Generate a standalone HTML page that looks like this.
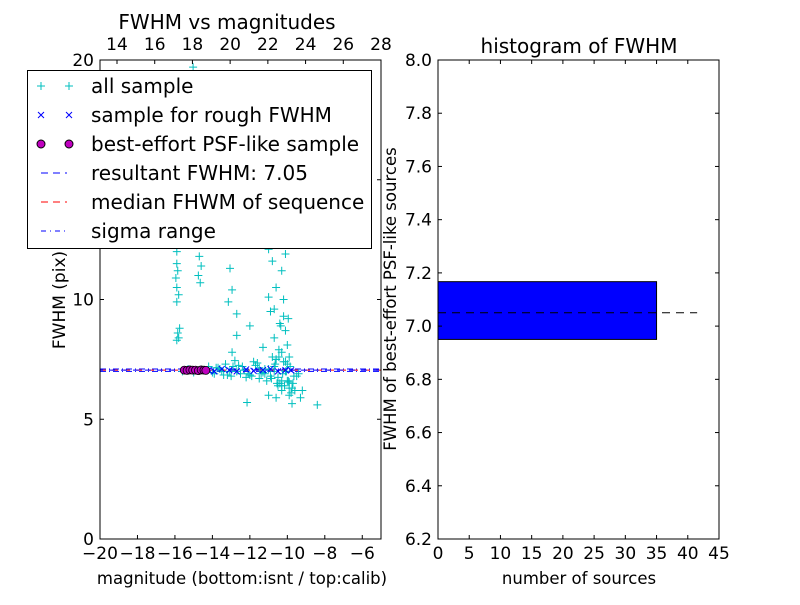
<!DOCTYPE html>
<html><head><meta charset="utf-8"><style>
body{margin:0;background:#fff}
svg text{font-family:"DejaVu Sans","Liberation Sans",sans-serif;fill:#000}
</style></head><body>
<svg id="s" width="800" height="600" xmlns="http://www.w3.org/2000/svg">
<rect width="800" height="600" fill="#fff"/>
<g id="left"></g>
<g id="right"></g>
</svg>
<script>
// ---- data ----
const allMag = [-15.9,-15.9,-15.85,-15.95,-15.9,-15.8,-15.9,-15.85,-15.8,-15.9,-15.75,-14.7,-14.6,-14.75,-14.65,-14.8,-15.03,
-13.06,-12.95,-13.15,-12.7,-12.0,-12.7,-12.95,-11.3,-11.0,-10.8,-10.5,-10.3,-10.6,-10.9,-10.2,-10.4,-10.1,-10.7,-10.0,-10.3,-9.9,-10.5,-10.2,-11.0,-10.7,-10.1,-9.95,-10.35,-10.6,-10.45,
-15.6,-15.3,-15.0,-14.6,-14.2,-13.9,-13.6,-13.3,-13.0,-12.7,-12.4,-12.1,-11.8,-11.5,-11.2,-10.9,-10.6,-10.3,-10.0,-9.7,-9.4,-13.8,-13.2,-12.6,-12.2,-11.6,-11.1,-10.8,-10.5,-10.2,-9.9,-9.6,-11.4,-10.4,-10.1,-9.8,-10.7,-11.0,-10.0,-9.5,-12.8,-13.5,
-14.0,-13.7,-13.4,-13.1,-12.9,-12.5,-12.3,-11.9,-11.7,-11.3,-11.0,-10.85,-10.65,-10.55,-10.45,-10.25,-10.15,-10.05,-9.95,-9.85,-9.75,-9.65,-10.3,-10.5,-10.1,-9.9,-10.7,-11.2,-11.5,-12.0,
-12.15,-8.4,-9.3,-9.75,-10.3,-9.2,-9.9,-10.6];
const allFwhm = [12.0,11.5,11.2,10.9,10.5,10.2,9.9,8.6,8.4,8.3,8.8,11.8,11.4,11.0,10.7,12.6,19.7,
11.3,10.4,9.9,9.4,8.9,8.5,7.8,8.0,12.1,11.6,12.5,11.2,10.5,9.5,9.3,9.0,8.7,8.4,8.1,7.8,7.6,12.9,10.0,10.1,9.6,11.9,9.2,8.9,7.5,7.9,
7.0,7.1,6.95,7.05,7.2,6.9,7.1,7.3,6.8,7.0,7.2,6.9,7.4,6.7,7.1,6.8,7.5,6.6,7.3,6.5,6.9,7.15,6.85,7.25,6.75,7.35,6.6,7.6,6.4,7.4,6.3,6.2,6.9,6.5,7.0,6.1,7.2,6.0,6.6,6.8,7.45,7.0,
6.95,7.15,6.85,7.0,7.2,6.9,7.05,6.8,7.25,6.95,7.1,6.7,7.3,6.5,7.6,6.9,6.4,7.0,6.6,7.2,6.3,6.8,6.2,6.75,7.4,6.55,7.0,6.9,7.15,6.85,
5.7,5.6,5.9,5.65,6.4,6.2,6.0,5.9];
const roughMag = [-14.2,-13.9,-13.5,-13.1,-12.7,-12.2,-11.8,-11.3,-10.9,-10.5,-10.1,-9.8];
const roughFwhm = [7.05,7.0,7.1,7.05,7.0,7.08,7.02,7.05,7.1,7.0,7.05,7.04];
const bestMag = [-15.5,-15.35,-15.2,-15.05,-14.9,-14.75,-14.6,-14.45,-14.35];
const bestFwhm = [7.05,7.04,7.06,7.05,7.05,7.03,7.06,7.05,7.04];
const resultFwhm = 7.05, medianFwhm = 7.05, sigmaLow = 7.0, sigmaHigh = 7.1;
const xTicks = [-20,-18,-16,-14,-12,-10,-8,-6];
const topTicks = [14,16,18,20,22,24,26,28];
const yTicks = [0,5,10,15,20];
const histBins = [6.95];
const histCounts = [35];
const histWidth = 0.217;
const histY = [6.2,6.4,6.6,6.8,7.0,7.2,7.4,7.6,7.8,8.0];
const histX = [0,5,10,15,20,25,30,35,40,45];
const dashEnd = 41.5;

const NS="http://www.w3.org/2000/svg";
function mk(p,t,a,txt){const e=document.createElementNS(NS,t);for(const k in a)e.setAttribute(k,a[k]);if(txt!==undefined)e.textContent=txt;p.appendChild(e);return e;}
const L=document.getElementById('left'), R=document.getElementById('right');
const lx0=100,lx1=381,ly0=60,ly1=539;
const sx=v=>lx0+(v+20)/15*(lx1-lx0);
const sy=v=>ly1-v/20*(ly1-ly0);
const stx=v=>117+(v-14)/14*(381-117);
mk(L,'rect',{x:lx0,y:ly0,width:lx1-lx0,height:ly1-ly0,fill:'#fff'});
let e;
e=mk(L,'line',{x1:lx0,x2:lx1,y1:sy(sigmaLow),y2:sy(sigmaLow),stroke:'#00f','stroke-dasharray':'6,3,1,3'});

e=mk(L,'line',{x1:lx0,x2:lx1,y1:sy(sigmaHigh),y2:sy(sigmaHigh),stroke:'#00f','stroke-dasharray':'6,3,1,3'});

e=mk(L,'line',{x1:lx0,x2:lx1,y1:sy(medianFwhm),y2:sy(medianFwhm),stroke:'#f00','stroke-dasharray':'6,6'});

e=mk(L,'line',{x1:lx0,x2:lx1,y1:sy(resultFwhm),y2:sy(resultFwhm),stroke:'#00f','stroke-dasharray':'6,6','stroke-dashoffset':'3'});

for(let i=0;i<allMag.length;i++){const x=sx(allMag[i]),y=sy(allFwhm[i]);
 e=mk(L,'path',{d:`M${x-4},${y}H${x+4}M${x},${y-4}V${y+4}`,stroke:'#00bfbf','stroke-width':1});
 }
for(let i=0;i<roughMag.length;i++){const x=sx(roughMag[i]),y=sy(roughFwhm[i]);
 e=mk(L,'path',{d:`M${x-3},${y-3}L${x+3},${y+3}M${x-3},${y+3}L${x+3},${y-3}`,stroke:'#00f','stroke-width':1});
 }
for(let i=0;i<bestMag.length;i++){
 e=mk(L,'circle',{cx:sx(bestMag[i]),cy:sy(bestFwhm[i]),r:4,fill:'#bf00bf',stroke:'#000','stroke-width':0.8});
 }
mk(L,'rect',{x:lx0,y:ly0,width:lx1-lx0,height:ly1-ly0,fill:'none',stroke:'#000'});
xTicks.forEach(v=>{const x=sx(v);mk(L,'line',{x1:x,x2:x,y1:ly1,y2:ly1-4,stroke:'#000'});
 e=mk(L,'text',{x:x,y:559,'font-size':17,'text-anchor':'middle'},v<0?'\u2212'+(-v):v);
 });
topTicks.forEach(v=>{const x=stx(v);mk(L,'line',{x1:x,x2:x,y1:ly0,y2:ly0+4,stroke:'#000'});
 e=mk(L,'text',{x:x,y:50,'font-size':17,'text-anchor':'middle'},v);
 });
yTicks.forEach(v=>{const y=sy(v);mk(L,'line',{x1:lx0,x2:lx0+4,y1:y,y2:y,stroke:'#000'});mk(L,'line',{x1:lx1,x2:lx1-4,y1:y,y2:y,stroke:'#000'});
 e=mk(L,'text',{x:94,y:y+6,'font-size':17,'text-anchor':'end'},v);
 });
e=mk(L,'text',{x:242,y:584,'font-size':16.5,'text-anchor':'middle'},'magnitude (bottom:isnt / top:calib)');

e=mk(L,'text',{x:227,y:29,'font-size':20,'text-anchor':'middle'},'FWHM vs magnitudes');

e=mk(L,'text',{x:0,y:0,'font-size':17,'text-anchor':'middle',transform:'translate(65,300) rotate(-90)'},'FWHM (pix)');

const lg=mk(L,'g',{});
mk(lg,'rect',{x:27.5,y:70.5,width:344,height:178,fill:'#fff',stroke:'#000'});
const labs=['all sample','sample for rough FWHM','best-effort PSF-like sample','resultant FWHM: 7.05','median FHWM of sequence','sigma range'];
labs.forEach((t,i)=>{const y=86+i*29;
 if(i==0){[41,69].forEach(x=>mk(lg,'path',{d:`M${x-4},${y}H${x+4}M${x},${y-4}V${y+4}`,stroke:'#00bfbf'}));}
 if(i==1){[41,69].forEach(x=>mk(lg,'path',{d:`M${x-3},${y-3}L${x+3},${y+3}M${x-3},${y+3}L${x+3},${y-3}`,stroke:'#00f'}));}
 if(i==2){[41,69].forEach(x=>mk(lg,'circle',{cx:x,cy:y,r:4,fill:'#bf00bf',stroke:'#000'}));}
 if(i==3)mk(lg,'line',{x1:41,x2:67,y1:y,y2:y,stroke:'#00f','stroke-dasharray':'7,5'});
 if(i==4)mk(lg,'line',{x1:41,x2:67,y1:y,y2:y,stroke:'#f00','stroke-dasharray':'7,5'});
 if(i==5)mk(lg,'line',{x1:41,x2:67,y1:y,y2:y,stroke:'#00f','stroke-dasharray':'5,4,1,4'});
 e=mk(lg,'text',{x:91,y:y+7,'font-size':20},t);
 });
const rx0=438,rx1=719,ry0=60,ry1=539;
const hx=v=>rx0+v/45*(rx1-rx0);
const hy=v=>ry1-(v-6.2)/1.8*(ry1-ry0);
histBins.forEach((b,i)=>{e=mk(R,'rect',{x:hx(0),y:hy(b+histWidth),width:hx(histCounts[i])-hx(0),height:hy(b)-hy(b+histWidth),fill:'#00f',stroke:'#000'});
 });
e=mk(R,'line',{x1:hx(0),x2:hx(dashEnd),y1:hy(resultFwhm),y2:hy(resultFwhm),stroke:'#000','stroke-dasharray':'8,6'});

mk(R,'rect',{x:rx0,y:ry0,width:rx1-rx0,height:ry1-ry0,fill:'none',stroke:'#000'});
histX.forEach(v=>{const x=hx(v);mk(R,'line',{x1:x,x2:x,y1:ry1,y2:ry1-4,stroke:'#000'});mk(R,'line',{x1:x,x2:x,y1:ry0,y2:ry0+4,stroke:'#000'});
 e=mk(R,'text',{x:x,y:559,'font-size':17,'text-anchor':'middle'},v);
 });
histY.forEach(v=>{const y=hy(v);mk(R,'line',{x1:rx0,x2:rx0+4,y1:y,y2:y,stroke:'#000'});mk(R,'line',{x1:rx1,x2:rx1-4,y1:y,y2:y,stroke:'#000'});
 e=mk(R,'text',{x:432,y:y+6,'font-size':17,'text-anchor':'end'},v.toFixed(1));
 });
e=mk(R,'text',{x:579,y:584,'font-size':16.5,'text-anchor':'middle'},'number of sources');

e=mk(R,'text',{x:579,y:53,'font-size':20,'text-anchor':'middle'},'histogram of FWHM');

e=mk(R,'text',{x:0,y:0,'font-size':16.5,'text-anchor':'middle',transform:'translate(396,299) rotate(-90)'},'FWHM of best-effort PSF-like sources');

</script>
</body></html>
